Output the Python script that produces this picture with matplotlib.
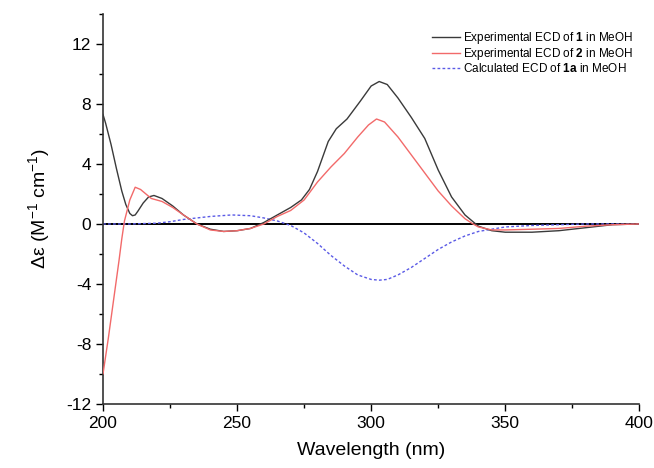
import matplotlib

matplotlib.use("Agg")
import matplotlib.pyplot as plt
import numpy as np
from matplotlib.ticker import MultipleLocator

# wavelength (nm) and delta epsilon values
wl_exp1 = [200, 201, 203, 205, 207, 208.5, 210, 211, 212, 213, 215, 217, 219, 222, 226,
           230, 235, 240, 245, 250, 255, 260, 265, 270, 274, 277, 280, 284, 287, 291,
           296, 300, 303, 306, 310, 315, 320, 325, 330, 335, 340, 345, 350, 360, 370,
           380, 390, 400]
de_exp1 = [7.3, 6.7, 5.3, 3.7, 2.2, 1.3, 0.7, 0.55, 0.6, 0.85, 1.4, 1.8, 1.9, 1.7, 1.2,
           0.6, 0.0, -0.35, -0.5, -0.45, -0.3, 0.1, 0.6, 1.1, 1.6, 2.3, 3.5, 5.5, 6.35, 7.0,
           8.2, 9.2, 9.5, 9.3, 8.4, 7.1, 5.7, 3.6, 1.8, 0.6, -0.15, -0.45, -0.55, -0.55, -0.45,
           -0.25, -0.05, 0.0]

wl_exp2 = [200, 202, 204, 206, 207, 208, 210, 212, 214, 216, 218, 222, 226, 230, 235,
           240, 245, 250, 255, 260, 265, 270, 275, 280, 285, 290, 295, 299, 302, 305,
           310, 315, 320, 325, 330, 335, 338, 340, 345, 350, 360, 370, 380, 390, 400]
de_exp2 = [-10.0, -7.6, -5.0, -2.4, -1.0, 0.2, 1.6, 2.45, 2.3, 2.0, 1.7, 1.5, 1.1, 0.6, 0.0,
           -0.4, -0.5, -0.45, -0.3, 0.0, 0.5, 0.9, 1.6, 2.8, 3.8, 4.7, 5.8, 6.6, 7.0, 6.8,
           5.8, 4.6, 3.4, 2.2, 1.2, 0.35, 0.0, -0.2, -0.4, -0.4, -0.35, -0.3, -0.15, -0.05, 0.0]

wl_calc = [200, 210, 220, 225, 230, 235, 240, 248, 255, 260, 265, 270, 275, 280, 285,
           290, 295, 300, 303, 306, 310, 315, 320, 325, 330, 335, 340, 345, 350, 360,
           370, 380, 390, 400]
de_calc = [0.0, 0.0, 0.05, 0.15, 0.3, 0.4, 0.5, 0.6, 0.55, 0.4, 0.2, -0.1, -0.6, -1.3, -2.1,
           -2.8, -3.4, -3.7, -3.75, -3.7, -3.4, -2.9, -2.3, -1.7, -1.2, -0.8, -0.5, -0.35, -0.2, -0.1,
           -0.05, 0.0, 0.0, 0.0]

plt.rcParams.update(
    {
        "font.family": ["Liberation Sans", "DejaVu Sans"],
        "mathtext.fontset": "custom",
        "mathtext.rm": "Liberation Sans",
        "mathtext.it": "Liberation Sans:italic",
        "mathtext.bf": "Liberation Sans:bold",
        "axes.unicode_minus": False,
    }
)

fig = plt.figure(figsize=(6.54, 4.68), dpi=100)
ax = fig.add_axes([0.1575, 0.137, 0.8200, 0.833])

ax.axhline(0, color="black", linewidth=1.4, zorder=1)
ax.plot(wl_exp1, de_exp1, color="#3a3a3a", linewidth=1.0,
        label=r"Experimental ECD of $\mathbf{1}$ in MeOH", zorder=3)
ax.plot(wl_exp2, de_exp2, color="#f26a6a", linewidth=1.0,
        label=r"Experimental ECD of $\mathbf{2}$ in MeOH", zorder=3)
ax.plot(wl_calc, de_calc, color="#5a5ae6", linewidth=1.0, linestyle=(0, (2, 1.6)),
        label=r"Calculated ECD of $\mathbf{1a}$ in MeOH", zorder=2)

ax.set_xlim(200, 400)
ax.set_ylim(-12, 14)
ax.xaxis.set_major_locator(MultipleLocator(50))
ax.xaxis.set_minor_locator(MultipleLocator(25))
ax.yaxis.set_minor_locator(MultipleLocator(2))
ax.set_yticks([-12, -8, -4, 0, 4, 8, 12])
ax.tick_params(which="major", direction="out", length=5, width=1.0, labelsize=12.5)
ax.tick_params(which="minor", direction="out", length=3, width=1.0)

for side in ("top", "right"):
    ax.spines[side].set_visible(False)
for side in ("left", "bottom"):
    ax.spines[side].set_linewidth(1.2)
    ax.spines[side].set_color("#333333")

ax.set_xlabel("Wavelength (nm)", fontsize=14, labelpad=8)
ax.set_ylabel(r"Δε (M$^{-1}$ cm$^{-1}$)", fontsize=14, labelpad=10)

ax.legend(loc="upper right", bbox_to_anchor=(1.005, 0.98), frameon=False, fontsize=8.5,
          handlelength=2.4, handletextpad=0.3, labelspacing=0.0, borderaxespad=0.3)

fig.savefig("out.png", dpi=100)
